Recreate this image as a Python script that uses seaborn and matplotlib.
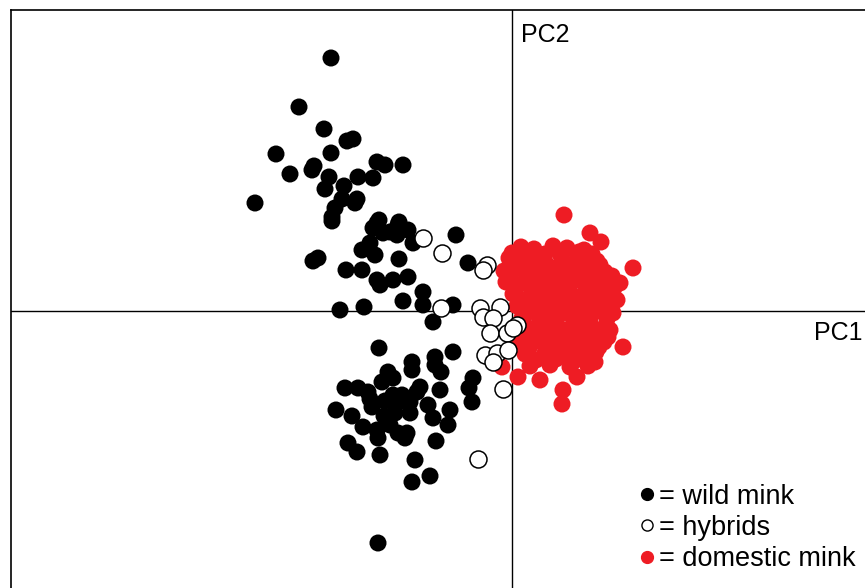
import numpy as np
import pandas as pd
import seaborn as sns
import matplotlib.pyplot as plt
from matplotlib.lines import Line2D

# PCA scores
wild_pc1 = [-1.81, -2.13, -1.88, -1.65, -1.59, -2.36, -1.81, -1.98, -2.00, -2.22,
            -1.35, -1.27, -1.09, -1.83, -1.54, -1.39, -1.87, -1.68, -2.57, -1.70,
            -1.55, -1.57, -1.77, -1.80, -1.33, -1.13, -1.80, -1.35, -1.39, -1.14,
            -1.04, -1.15, -0.99, -1.29, -1.22, -0.56, -1.42, -1.50, -1.37, -1.99,
            -1.94, -1.13, -0.44, -1.66, -1.50, -1.35, -1.19, -1.04, -1.32, -0.89,
            -1.09, -0.89, -1.72, -1.48, -0.59, -0.79, -1.33, -0.59, -0.77, -0.77,
            -0.71, -1.00, -1.24, -1.19, -1.00, -1.30, -1.67, -1.54, -1.44, -0.39,
            -0.43, -0.40, -0.92, -0.95, -0.72, -1.19, -1.15, -1.76, -1.40, -1.02,
            -0.84, -0.62, -1.17, -1.02, -0.79, -0.64, -1.49, -1.35, -1.22, -1.14,
            -1.05, -1.07, -1.64, -1.55, -1.34, -0.76, -1.32, -0.97, -0.82, -1.00,
            -1.34, -1.27, -1.10, -1.28, -1.42, -1.60]
wild_pc2 = [2.53, 2.04, 1.82, 1.70, 1.72, 1.57, 1.58, 1.45, 1.41, 1.37,
            1.49, 1.46, 1.46, 1.34, 1.34, 1.33, 1.22, 1.25, 1.08, 1.12,
            1.12, 1.08, 1.03, 0.94, 0.91, 0.89, 0.90, 0.88, 0.83, 0.86,
            0.81, 0.76, 0.68, 0.78, 0.79, 0.76, 0.68, 0.61, 0.56, 0.50,
            0.53, 0.52, 0.48, 0.41, 0.41, 0.31, 0.31, 0.34, 0.26, 0.19,
            0.10, 0.06, 0.01, 0.04, 0.06, -0.11, -0.37, -0.41, -0.46, -0.54,
            -0.61, -0.51, -0.61, -0.67, -0.59, -0.71, -0.77, -0.77, -0.81, -0.67,
            -0.77, -0.91, -0.76, -0.81, -0.79, -0.84, -0.92, -0.99, -0.96, -0.91,
            -0.94, -0.99, -1.02, -1.02, -1.07, -1.14, -1.16, -1.19, -1.14, -1.22,
            -1.22, -1.27, -1.32, -1.41, -1.27, -1.30, -1.44, -1.49, -1.65, -1.71,
            -2.32, -0.90, -0.84, -1.05, -0.88, -1.05]

hybrid_pc1 = [-0.89, -0.70, -0.25, -0.29, -0.71, -0.32, -0.12, -0.29, -0.19, -0.22,
              -0.05, 0.05, -0.27, -0.15, -0.04, -0.19, -0.09, -0.34, 0.01]
hybrid_pc2 = [0.73, 0.58, 0.46, 0.41, 0.03, 0.03, 0.04, -0.06, -0.07, -0.22,
              -0.22, -0.14, -0.44, -0.42, -0.39, -0.51, -0.78, -1.48, -0.17]

domestic_pc1 = [0.52, 0.78, 0.89, 1.21, 1.08, 1.05, 1.11, 0.06, 0.28, 0.51,
                0.50, 0.65, 0.83, -0.10, 0.08,
                0.09, 0.22, 0.41, 0.55, 0.72,
                -0.03, 0.16, 0.32, 0.49, 0.65, 0.85,
                -0.08, 0.09, 0.25, 0.44, 0.61, 0.77, 0.93,
                -0.06, 0.12, 0.31, 0.47, 0.64, 0.81, 0.97,
                0.01, 0.19, 0.35, 0.53, 0.70, 0.87, 1.00,
                0.05, 0.23, 0.41, 0.57, 0.76, 0.92,
                0.10, 0.27, 0.44, 0.61, 0.78, 0.95,
                0.03, 0.21, 0.36, 0.54, 0.70, 0.86, 0.98,
                0.08, 0.26, 0.43, 0.59, 0.78, 0.92,
                0.13, 0.33, 0.50, 0.68, 0.84,
                0.18, 0.38, 0.58, 0.76,
                0.00, 0.17, 0.33, 0.50, 0.67, 0.80,
                0.02, 0.18, 0.35, 0.52, 0.69, 0.88,
                -0.02, 0.17, 0.34, 0.52, 0.70, 0.88, 1.00,
                0.04, 0.21, 0.39, 0.57, 0.74, 0.90, 1.02,
                0.09, 0.28, 0.46, 0.63, 0.82, 0.98,
                0.14, 0.33, 0.50, 0.68, 0.86, 1.01,
                0.12, 0.29, 0.45, 0.62, 0.78, 0.94,
                0.14, 0.30, 0.48, 0.66, 0.82, 0.96,
                0.17, 0.36, 0.53, 0.71, 0.87,
                0.24, 0.44, 0.62, 0.80]
domestic_pc2 = [0.96, 0.78, 0.69, 0.43, 0.28, 0.11, -0.36, -0.66, -0.69, -0.79,
                -0.93, -0.66, -0.51, -0.56, 0.61,
                0.64, 0.62, 0.65, 0.63, 0.61,
                0.53, 0.54, 0.52, 0.55, 0.52, 0.50,
                0.40, 0.42, 0.41, 0.43, 0.40, 0.42, 0.39,
                0.29, 0.28, 0.30, 0.29, 0.31, 0.28, 0.27,
                0.17, 0.16, 0.18, 0.17, 0.15, 0.18, 0.16,
                0.05, 0.06, 0.04, 0.06, 0.05, 0.04,
                -0.07, -0.06, -0.08, -0.07, -0.06, -0.08,
                -0.19, -0.18, -0.20, -0.19, -0.17, -0.20, -0.19,
                -0.31, -0.30, -0.32, -0.31, -0.29, -0.31,
                -0.43, -0.42, -0.44, -0.43, -0.41,
                -0.55, -0.54, -0.56, -0.55,
                0.58, 0.59, 0.57, 0.58, 0.59, 0.57,
                0.47, 0.48, 0.46, 0.47, 0.48, 0.46,
                0.35, 0.36, 0.34, 0.35, 0.36, 0.34, 0.35,
                0.23, 0.22, 0.24, 0.23, 0.22, 0.24, 0.23,
                0.11, 0.12, 0.10, 0.11, 0.12, 0.10,
                -0.01, 0.00, -0.02, -0.01, 0.00, -0.02,
                -0.13, -0.12, -0.14, -0.13, -0.12, -0.14,
                -0.25, -0.24, -0.26, -0.25, -0.24, -0.26,
                -0.37, -0.36, -0.38, -0.37, -0.36,
                -0.49, -0.48, -0.50, -0.49]

wild = pd.DataFrame({"PC1": wild_pc1, "PC2": wild_pc2})
hybrids = pd.DataFrame({"PC1": hybrid_pc1, "PC2": hybrid_pc2})
domestic = pd.DataFrame({"PC1": domestic_pc1, "PC2": domestic_pc2})

sns.set_style("white")
plt.rcParams["font.family"] = ["Liberation Sans", "DejaVu Sans"]
plt.rcParams["text.color"] = "black"

fig = plt.figure(figsize=(8.65, 5.88), dpi=100)
ax = fig.add_axes([11 / 865, 0, 1 - 11 / 865, 578 / 588])

ax.axhline(0, color="black", lw=1.0, zorder=1)
ax.axvline(0, color="black", lw=1.0, zorder=1)

sns.scatterplot(data=wild, x="PC1", y="PC2", color="black", s=150,
                edgecolor="none", ax=ax, zorder=2)
sns.scatterplot(data=domestic, x="PC1", y="PC2", color="#ee1c24", s=150,
                edgecolor="none", ax=ax, zorder=3)
sns.scatterplot(data=hybrids, x="PC1", y="PC2", color="white", s=150,
                edgecolor="black", linewidth=1.1, ax=ax, zorder=4)

ax.set_xlim(-5.01, 3.53)
ax.set_ylim(-2.77, 3.01)
ax.set_xticks([])
ax.set_yticks([])
ax.set_xlabel("")
ax.set_ylabel("")
for side in ["right", "bottom"]:
    ax.spines[side].set_visible(False)
for side in ["left", "top"]:
    ax.spines[side].set_color("black")
    ax.spines[side].set_linewidth(1.2)

ax.text(0.09, 2.76, "PC2", fontsize=18, va="center", ha="left", color="black")
ax.text(3.51, -0.22, "PC1", fontsize=18, va="center", ha="right", color="black")

handles = [
    Line2D([], [], ls="none", marker="o", ms=8.5, mfc="black", mec="black"),
    Line2D([], [], ls="none", marker="o", ms=8, mfc="white", mec="black", mew=1),
    Line2D([], [], ls="none", marker="o", ms=8.5, mfc="#ee1c24", mec="#ee1c24"),
]
labels = ["= wild mink", "= hybrids", "= domestic mink"]
ax.legend(handles, labels, loc="lower left", bbox_to_anchor=(0.735, 0.027),
          frameon=False, fontsize=19.5, handlelength=0.6, handletextpad=0.15,
          labelspacing=0.2, borderpad=0, borderaxespad=0)

fig.savefig("out.png", dpi=100)
